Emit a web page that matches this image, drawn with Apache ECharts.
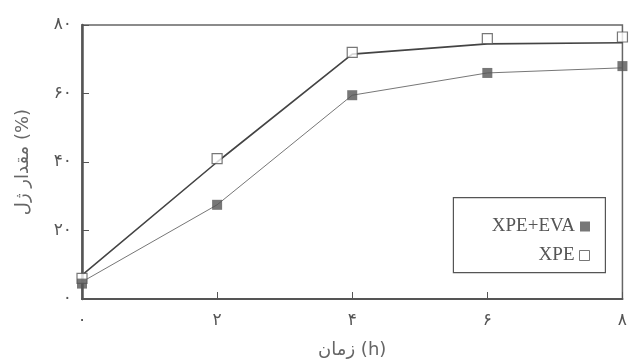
<!DOCTYPE html>
<html>
<head>
<meta charset="utf-8">
<script src="https://cdn.jsdelivr.net/npm/echarts@6/dist/echarts.min.js"></script>
<style>
  html, body { margin: 0; padding: 0; background: #fff; }
  #chart { width: 630px; height: 364px; }
</style>
</head>
<body>
<div id="chart"></div>
<script>
// time (h) and gel content (%)
var hours = [0, 2, 4, 6, 8]
var xTickLabels = ["۰", "۲", "۴", "۶", "۸"]
var yTickValues = [0, 20, 40, 60, 80]
var yTickLabels = ["۰", "۲۰", "۴۰", "۶۰", "۸۰"]

var xpePoints = [6, 41, 72, 76, 76.5]
var xpeFit = [7, 40, 71.5, 74.5, 74.8]
var evaPoints = [4.5, 27.5, 59.5, 66, 68]
var evaFit = [5, 27.5, 59.5, 66, 67.5]

function pairs(xs, ys) {
  var out = []
  for (var i = 0; i < xs.length; i++) out.push([xs[i], ys[i]])
  return out
}

var chart = echarts.init(document.getElementById("chart"))
var ink = "#555"
var persian = "DejaVu Sans"
var legendText = { fontFamily: "Liberation Serif", fontSize: 19, color: "#555" }

var option = {
  backgroundColor: "#fff",
  animation: false,
  grid: {
    left: 82,
    right: 6,
    top: 25,
    bottom: 54,
    show: true,
    borderColor: "#666",
    borderWidth: 1.5,
  },
  graphic: [
    {
      type: "rect",
      right: 24,
      top: 197,
      shape: { width: 152, height: 75 },
      style: { fill: "#fff", stroke: ink, lineWidth: 1.2 },
      z: 50,
    },
  ],
  legend: [
    {
      data: [{ name: "XPE+EVA", icon: "rect", itemStyle: { color: "#555" } }],
      align: "right",
      right: 35,
      top: 212,
      itemWidth: 10,
      itemHeight: 10,
      itemGap: 8,
      selectedMode: false,
      textStyle: legendText,
      z: 60,
    },
    {
      data: [
        {
          name: "XPE",
          icon: "rect",
          itemStyle: { color: "#fff", borderColor: "#555", borderWidth: 1 },
        },
      ],
      align: "right",
      right: 35,
      top: 241,
      itemWidth: 10,
      itemHeight: 10,
      itemGap: 8,
      selectedMode: false,
      textStyle: legendText,
      z: 60,
    },
  ],
  xAxis: {
    type: "value",
    min: 0,
    max: 8,
    interval: 2,
    name: "زمان (h)",
    nameLocation: "middle",
    nameGap: 42,
    nameTextStyle: { fontFamily: persian, fontSize: 18, color: "#666" },
    axisLine: { lineStyle: { color: ink, width: 2 } },
    axisTick: { inside: true, length: 7, lineStyle: { color: ink } },
    axisLabel: {
      fontFamily: persian,
      fontSize: 17,
      color: "#555",
      margin: 13,
      formatter: function (v) {
        return xTickLabels[hours.indexOf(v)]
      },
    },
    splitLine: { show: false },
  },
  yAxis: {
    type: "value",
    min: 0,
    max: 80,
    interval: 20,
    name: "مقدار ژل (%)",
    nameLocation: "middle",
    nameGap: 50,
    nameTextStyle: { fontFamily: persian, fontSize: 18, color: "#666" },
    axisLine: { show: true, lineStyle: { color: ink, width: 2.5 } },
    axisTick: { show: true, inside: true, length: 7, lineStyle: { color: ink } },
    axisLabel: {
      fontFamily: persian,
      fontSize: 17,
      color: "#555",
      margin: 10,
      formatter: function (v) {
        return yTickLabels[yTickValues.indexOf(v)]
      },
    },
    splitLine: { show: false },
  },
  series: [
    {
      name: "XPE fit",
      type: "line",
      data: pairs(hours, xpeFit),
      showSymbol: false,
      lineStyle: { color: "#444", width: 1.6 },
      silent: true,
    },
    {
      name: "XPE+EVA fit",
      type: "line",
      data: pairs(hours, evaFit),
      showSymbol: false,
      lineStyle: { color: "#777", width: 1 },
      silent: true,
    },
    {
      name: "XPE",
      type: "scatter",
      data: pairs(hours, xpePoints),
      symbol: "rect",
      symbolSize: 10,
      itemStyle: { color: "#fff", borderColor: "#555", borderWidth: 1.2 },
      z: 5,
    },
    {
      name: "XPE+EVA",
      type: "scatter",
      data: pairs(hours, evaPoints),
      symbol: "rect",
      symbolSize: 10,
      itemStyle: { color: "#555" },
      z: 5,
    },
  ],
}

chart.setOption(option)
</script>
</body>
</html>
